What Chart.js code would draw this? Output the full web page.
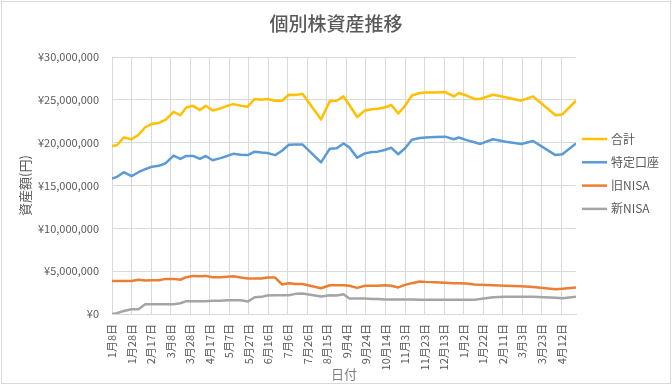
<!DOCTYPE html>
<html lang="ja">
<head>
<meta charset="UTF-8">
<title>個別株資産推移</title>
<script src="https://cdn.jsdelivr.net/npm/chart.js"></script>
<style>
  body { margin: 0; background: #fff; }
</style>
</head>
<body>
<canvas id="assetChart" width="672" height="385"></canvas>
<script>
// 日付 (each data point)
const dates = [
  '2024-01-08','2024-01-13','2024-01-20','2024-01-28','2024-02-04','2024-02-11','2024-02-18','2024-02-25','2024-03-03','2024-03-11',
  '2024-03-18','2024-03-24','2024-03-31','2024-04-07','2024-04-13','2024-04-20','2024-04-28','2024-05-05','2024-05-11','2024-05-19',
  '2024-05-26','2024-06-02','2024-06-09','2024-06-15','2024-06-23','2024-06-30','2024-07-07','2024-07-14','2024-07-21','2024-08-09',
  '2024-08-18','2024-08-25','2024-09-01','2024-09-07','2024-09-15','2024-09-23','2024-09-30','2024-10-06','2024-10-13','2024-10-20',
  '2024-10-27','2024-11-03','2024-11-10','2024-11-18','2024-11-24','2024-12-04','2024-12-14','2024-12-23','2024-12-28','2025-01-05',
  '2025-01-13','2025-01-19','2025-02-01','2025-02-14','2025-03-02','2025-03-14','2025-04-06','2025-04-13','2025-04-27'
];

// values in 万円
const total = [
  1960,1970,2060,2040,2090,2180,2220,2230,2270,2360,
  2320,2410,2430,2380,2430,2375,2400,2430,2450,2430,
  2420,2510,2500,2510,2490,2490,2560,2555,2570,2270,
  2485,2490,2540,2440,2300,2375,2390,2395,2410,2440,
  2340,2430,2550,2580,2585,2585,2590,2540,2580,2550,
  2510,2510,2560,2530,2490,2540,2320,2330,2490
];
const tokutei = [
  1580,1600,1655,1610,1655,1690,1720,1730,1760,1850,
  1810,1845,1845,1810,1845,1795,1820,1845,1870,1860,
  1855,1895,1885,1880,1855,1905,1975,1980,1980,1770,
  1930,1935,1990,1945,1825,1875,1890,1895,1915,1940,
  1865,1935,2035,2055,2060,2065,2070,2040,2060,2030,
  2005,1985,2040,2010,1985,2020,1855,1865,1990
];
const oldNisa = [
  385,385,385,385,400,390,395,395,410,410,
  400,430,445,440,445,430,430,435,440,425,
  415,415,415,425,425,345,360,350,350,300,
  335,335,335,330,305,330,330,330,335,330,
  310,340,360,380,375,370,365,360,360,355,
  345,340,335,330,325,315,290,295,310
];
const newNisa = [
  0,10,35,55,55,115,115,115,115,115,
  125,150,150,150,150,155,155,160,160,160,
  145,195,200,215,220,220,220,235,240,205,
  220,215,230,180,180,180,175,175,170,170,
  170,170,170,165,165,165,165,165,165,165,
  165,175,195,200,200,200,190,185,200
];

// x axis labels, one every 20 days from the first date
const tickLabels = [
  '1月8日','1月28日','2月17日','3月8日','3月28日','4月17日','5月7日','5月27日',
  '6月16日','7月6日','7月26日','8月15日','9月4日','9月24日','10月14日','11月3日',
  '11月23日','12月13日','1月2日','1月22日','2月11日','3月3日','3月23日','4月12日'
];
const tickStep = 20;

const chartTitle = '個別株資産推移';
const seriesNames = ['合計', '特定口座', '旧NISA', '新NISA'];
const seriesColors = ['#FFC000', '#5B9BD5', '#ED7D31', '#A5A5A5'];

const DAY = 86400000;
const t0 = Date.parse(dates[0]);
const days = dates.map(d => (Date.parse(d) - t0) / DAY);
const toPoints = arr => arr.map((v, i) => ({ x: days[i], y: v * 10000 }));

const yen = v => '¥' + String(v).replace(/\B(?=(\d{3})+(?!\d))/g, ',');

const FONT = '"Noto Sans CJK JP", "Noto Sans", sans-serif';
Chart.defaults.font.family = FONT;
Chart.defaults.color = '#595959';

// white background, light frame and the title centred on the whole chart
const frame = {
  id: 'frame',
  beforeDraw(chart) {
    const ctx = chart.ctx;
    ctx.save();
    ctx.fillStyle = '#fff';
    ctx.fillRect(0, 0, chart.width, chart.height);
    ctx.strokeStyle = '#d9d9d9';
    ctx.lineWidth = 1;
    ctx.strokeRect(1.5, 1.5, chart.width - 3, chart.height - 3);
    ctx.font = '500 19px ' + FONT;
    ctx.fillStyle = '#595959';
    ctx.textAlign = 'center';
    ctx.textBaseline = 'middle';
    ctx.fillText(chartTitle, chart.width / 2, 24);
    ctx.restore();
  }
};

// legend on the right, line samples
const sideLegend = {
  id: 'sideLegend',
  afterDraw(chart) {
    const ctx = chart.ctx;
    ctx.save();
    ctx.font = '12px ' + FONT;
    ctx.textBaseline = 'middle';
    chart.data.datasets.forEach((ds, i) => {
      const y = 139 + i * 23.3;
      ctx.strokeStyle = ds.borderColor;
      ctx.lineWidth = 2.5;
      ctx.beginPath();
      ctx.moveTo(582, y);
      ctx.lineTo(607, y);
      ctx.stroke();
      ctx.fillStyle = '#595959';
      ctx.fillText(ds.label, 611, y);
    });
    ctx.restore();
  }
};

const seriesData = [total, tokutei, oldNisa, newNisa];

const ctx = document.getElementById('assetChart').getContext('2d');
const chart = new Chart(ctx, {
  type: 'line',
  data: {
    datasets: seriesData.map((arr, i) => ({
      label: seriesNames[i],
      data: toPoints(arr),
      borderColor: seriesColors[i],
      backgroundColor: seriesColors[i],
      borderWidth: 2.5,
      borderJoinStyle: 'round',
      pointRadius: 0,
      tension: 0,
      fill: false
    }))
  },
  options: {
    responsive: false,
    animation: false,
    layout: { padding: { left: 10, right: 96, top: 57, bottom: 3 } },
    plugins: {
      legend: { display: false },
      tooltip: { enabled: false },
      title: { display: false }
    },
    scales: {
      x: {
        type: 'linear',
        min: 0,
        max: days[days.length - 1],
        afterBuildTicks: s => { s.ticks = tickLabels.map((_, i) => ({ value: i * tickStep })); },
        afterFit: s => { s.height = 68; },
        ticks: {
          autoSkip: false,
          minRotation: 90,
          maxRotation: 90,
          padding: 10,
          font: { size: 11 },
          color: '#595959',
          callback: v => tickLabels[Math.round(v / tickStep)]
        },
        grid: { color: '#d9d9d9', drawTicks: false },
        border: { color: '#d9d9d9' },
        title: {
          display: true,
          text: '日付',
          color: '#7f7f7f',
          font: { size: 13 },
          padding: { top: 0, bottom: 0 }
        }
      },
      y: {
        min: 0,
        max: 30000000,
        afterFit: s => { s.width = 102; },
        ticks: {
          stepSize: 5000000,
          padding: 13,
          font: { size: 11 },
          color: '#595959',
          callback: v => yen(v)
        },
        grid: { color: '#d9d9d9', drawTicks: false },
        border: { display: false },
        title: {
          display: true,
          text: '資産額(円)',
          color: '#595959',
          font: { size: 13 },
          padding: { top: 7, bottom: 0 }
        }
      }
    }
  },
  plugins: [frame, sideLegend]
});
</script>
</body>
</html>
